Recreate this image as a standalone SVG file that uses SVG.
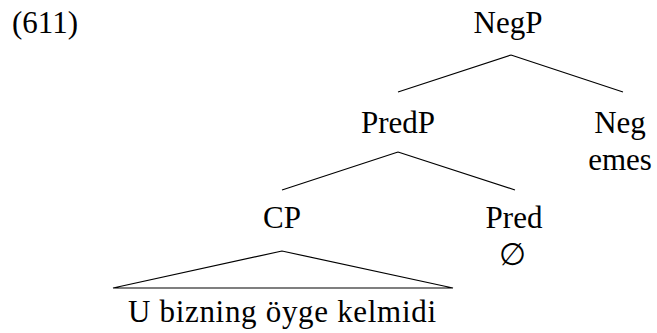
<svg xmlns="http://www.w3.org/2000/svg" width="657" height="333" viewBox="0 0 657 333">
<rect width="657" height="333" fill="#fff"/>
<g font-family="Liberation Serif" font-size="31" fill="#000">
<text x="12" y="33">(611)</text>
<g id="NegP"><text x="508" y="33" text-anchor="middle">NegP</text></g>
<g id="PredP"><text x="398" y="133" text-anchor="middle">PredP</text></g>
<g id="Neg"><text x="620" y="133" text-anchor="middle">Neg</text><text x="620" y="170" text-anchor="middle">emes</text></g>
<g id="CP"><text x="282" y="228" text-anchor="middle">CP</text></g>
<g id="Pred"><text x="514" y="228" text-anchor="middle">Pred</text><text x="512" y="265" text-anchor="middle">∅</text></g>
<g id="S"><text x="282" y="322" text-anchor="middle" textLength="308" lengthAdjust="spacing">U bizning öyge kelmidi</text></g>
</g>
<g id="connectors" stroke="#000" stroke-width="1.2" fill="none">
<path d="M511,55 L398,92 M511,55 L623,92"/>
<path d="M398,152 L282,190 M398,152 L515,190"/>
<path d="M282,251 L113,288 L453,288 Z"/>
</g>
</svg>
